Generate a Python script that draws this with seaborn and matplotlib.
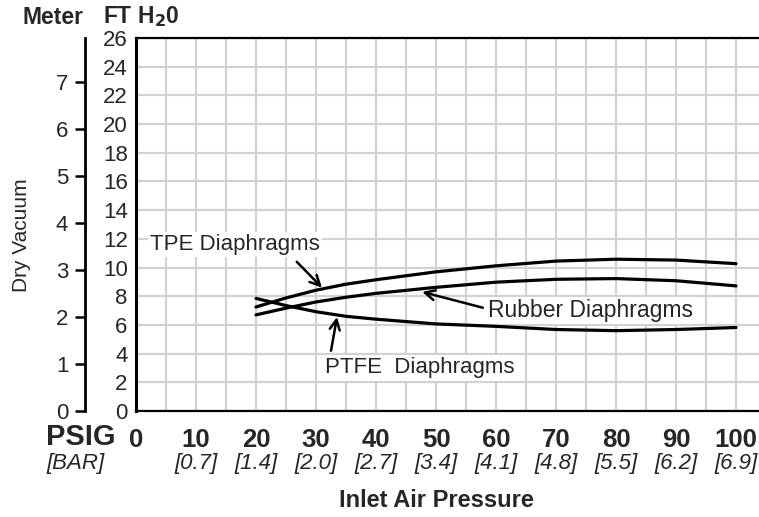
import numpy as np
import pandas as pd
import matplotlib
matplotlib.use("Agg")
import matplotlib.pyplot as plt
import seaborn as sns

# Data (dry vacuum in ft H2O vs inlet air pressure in psig)
psi = [20, 25, 30, 35, 40, 50, 60, 70, 80, 90, 100]
tpe = [7.25, 7.88, 8.42, 8.84, 9.15, 9.7, 10.12, 10.45, 10.58, 10.52, 10.27]
rubber = [6.7, 7.17, 7.6, 7.93, 8.2, 8.62, 8.98, 9.18, 9.23, 9.08, 8.72]
ptfe = [7.85, 7.35, 6.92, 6.6, 6.4, 6.07, 5.9, 5.68, 5.6, 5.68, 5.82]

psig_ticks = [0, 10, 20, 30, 40, 50, 60, 70, 80, 90, 100]
bar_labels = ["[0.7]", "[1.4]", "[2.0]", "[2.7]", "[3.4]",
              "[4.1]", "[4.8]", "[5.5]", "[6.2]", "[6.9]"]
ft_ticks = list(range(0, 27, 2))
meter_ticks = list(range(0, 8))
FT_PER_M = 3.28084

sns.set_style("white")
plt.rcParams['font.family'] = ['Liberation Sans', 'DejaVu Sans']

df = pd.concat([
    pd.DataFrame({"psi": psi, "vac": tpe, "series": "TPE"}),
    pd.DataFrame({"psi": psi, "vac": rubber, "series": "Rubber"}),
    pd.DataFrame({"psi": psi, "vac": ptfe, "series": "PTFE"}),
])

W, H = 759, 517
fig = plt.figure(figsize=(W / 100, H / 100), dpi=100)

left, right, top, bottom = 136, 759, 38, 411
ax = fig.add_axes([left / W, 1 - bottom / H, (right - left) / W, (bottom - top) / H])

sns.lineplot(data=df, x="psi", y="vac", hue="series", palette=["black"] * 3,
             linewidth=2.3, legend=False, ax=ax, sort=False)

ax.set_xlim(0, (right - left) / 6.0)
ax.set_ylim(0, 26)

# grid every 5 psi and 2 ft
ax.set_xticks(np.arange(5, 101, 5), minor=True)
ax.set_xticks(psig_ticks)
ax.set_xticklabels([str(t) for t in psig_ticks], fontweight='bold', fontsize=18.5)
ax.set_yticks(ft_ticks)
ax.set_yticklabels([str(t) for t in ft_ticks], fontsize=16)
ax.grid(True, which='both', color='#d2d2d2', linewidth=1.6)
ax.set_axisbelow(True)
ax.tick_params(axis='y', length=0, pad=6)
ax.tick_params(axis='x', which='both', length=0, pad=12)
ax.set_xlabel("")
ax.set_ylabel("")

for side in ['left', 'bottom', 'top']:
    ax.spines[side].set_visible(True)
    ax.spines[side].set_color('black')
ax.spines['left'].set_linewidth(2.2)
ax.spines['bottom'].set_linewidth(1.6)
ax.spines['top'].set_linewidth(1.6)
ax.spines['right'].set_visible(False)

# meter axis
mx = 85
ax2 = fig.add_axes([mx / W, 1 - bottom / H, 0.001, (bottom - top) / H])
ax2.patch.set_visible(False)
ax2.set_ylim(0, 26 / FT_PER_M)
ax2.set_yticks(meter_ticks)
ax2.set_yticklabels([str(t) for t in meter_ticks], fontsize=16)
ax2.set_xticks([])
for side in ['right', 'bottom', 'top']:
    ax2.spines[side].set_visible(False)
ax2.spines['left'].set_color('black')
ax2.spines['left'].set_linewidth(2.0)
ax2.tick_params(axis='y', left=True, length=7, width=1.8, color='black', pad=5)

# BAR labels under psig ticks
xt = ax.get_xaxis_transform()
for p, lab in zip(psig_ticks[1:], bar_labels):
    ax.text(p, -0.142, lab, transform=xt, ha='center', va='center',
            fontsize=16, style='italic')
ax.text(-15, -0.07, "PSIG", transform=xt, ha='left', va='center',
        fontsize=21, fontweight='bold')
ax.text(-15, -0.142, "[BAR]", transform=xt, ha='left', va='center',
        fontsize=16, style='italic')
ax.text(50, -0.239, "Inlet Air Pressure", transform=xt, ha='center', va='center',
        fontsize=17, fontweight='bold')

# headers
fig.text(22 / W, 1 - 17 / H, "Meter", fontsize=16.5, fontweight='bold', va='center')
fig.text(103 / W, 1 - 17 / H, r"FT H$_\mathbf{2}$0", fontsize=16.5, fontweight='bold',
         va='center')
fig.text(22 / W, 1 - 235 / H, "Dry Vacuum", fontsize=15, rotation=90,
         ha='center', va='center')

# annotations
box = dict(boxstyle='square,pad=0.1', fc='white', ec='none')
arrow = dict(arrowstyle='->', color='black', lw=1.8, mutation_scale=18,
             shrinkA=0, shrinkB=0)
ax.text(16.5, 11.6, "TPE Diaphragms", fontsize=16, ha='center', va='center', bbox=box)
ax.annotate("", xy=(31, 8.6), xytext=(26.8, 10.4), arrowprops=arrow)
ax.text(58.6, 7.0, "Rubber Diaphragms", fontsize=16.5, ha='left', va='center', bbox=box)
ax.annotate("", xy=(47.7, 8.3), xytext=(57.8, 7.2), arrowprops=arrow)
ax.text(31.5, 3.0, "PTFE  Diaphragms", fontsize=16, ha='left', va='center', bbox=box)
ax.annotate("", xy=(33.5, 6.55), xytext=(32.5, 4.2), arrowprops=arrow)

fig.savefig("out.png", dpi=100)
